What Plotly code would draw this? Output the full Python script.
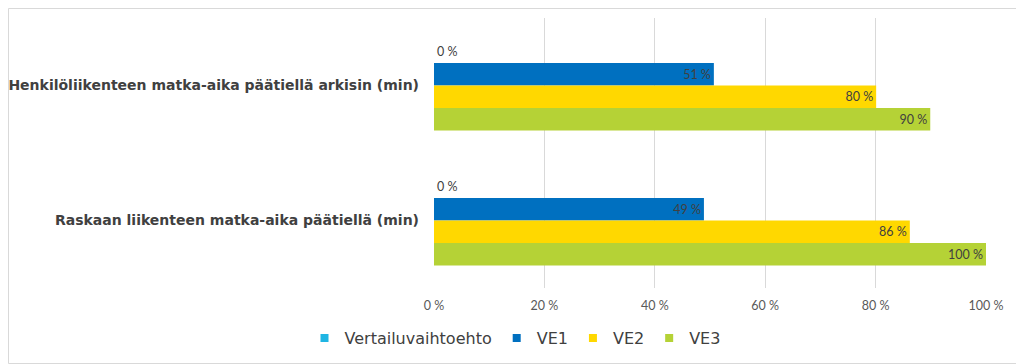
import plotly.graph_objects as go

categories = ["Henkilöliikenteen matka-aika päätiellä arkisin (min)",
              "Raskaan liikenteen matka-aika päätiellä (min)"]
series_names = ["Vertailuvaihtoehto", "VE1", "VE2", "VE3"]
vertailu = [0.0, 0.0]
ve1 = [0.507, 0.489]
ve2 = [0.801, 0.862]
ve3 = [0.899, 1.0]
tick_vals = [0, 0.2, 0.4, 0.6, 0.8, 1.0]
tick_text = ["0 %", "20 %", "40 %", "60 %", "80 %", "100 %"]

colors = ["#1FB5E3", "#0070C0", "#FFD800", "#B5D236"]
series = [vertailu, ve1, ve2, ve3]

fig = go.Figure()
for name, vals, col in zip(series_names, series, colors):
    labels = [f"{round(v * 100)} %" for v in vals]
    fig.add_trace(go.Bar(
        name=name, y=categories, x=vals, orientation="h",
        marker=dict(color=col, line=dict(width=0)),
        text=labels,
        textposition="outside" if name == "Vertailuvaihtoehto" else "inside",
        insidetextanchor="end",
        textangle=0,
        constraintext="none",
        cliponaxis=False,
        showlegend=False,
        textfont=dict(family="Lato, Open Sans, sans-serif", size=12.5, color="#404040"),
    ))
# legend entries with small square markers
for name, col in zip(series_names, colors):
    fig.add_trace(go.Scatter(
        x=[None], y=[None], mode="markers", name=name,
        marker=dict(symbol="square", size=8, color=col),
        showlegend=True,
    ))

# page body has an 8px default offset
W, H = 1016, 356
ml, mr, mt, mb = 426, 38, 10, 76
pw = W - ml - mr
ph = H - mt - mb

fig.update_layout(
    width=W, height=H,
    margin=dict(l=ml, r=mr, t=mt, b=mb),
    barmode="group", bargap=0.333, bargroupgap=0,
    plot_bgcolor="white", paper_bgcolor="white",
    font=dict(family="DejaVu Sans, sans-serif", color="#404040"),
    xaxis=dict(range=[0, 1.0], tickvals=tick_vals, ticktext=tick_text,
               showgrid=True, gridcolor="#D9D9D9", gridwidth=1,
               zeroline=False, showline=False, fixedrange=True, automargin=False,
               tickfont=dict(family="Lato, Open Sans, sans-serif", size=12.5, color="#595959"),
               ticklabelstandoff=8),
    yaxis=dict(autorange="reversed", showgrid=False, zeroline=False, showline=False,
               fixedrange=True, automargin=False,
               tickfont=dict(family="DejaVu Sans, sans-serif", size=14, color="#404040",
                             weight="bold"),
               ticklabelstandoff=14),
    legend=dict(orientation="h", x=(515 - 8) / W, xanchor="center",
                xref="container", y=1 - (338 - 8) / H, yref="container", yanchor="middle",
                font=dict(family="DejaVu Sans, sans-serif", size=16, color="#404040"),
                itemwidth=30, traceorder="normal", tracegroupgap=0),
    showlegend=True,
)

# outer border of the chart area
fig.add_shape(type="rect", xref="paper", yref="paper",
              x0=(-ml + 0.5) / pw, x1=(pw + mr - 0.5) / pw,
              y0=(-mb + 0.5) / ph, y1=(ph + mt - 0.5) / ph,
              line=dict(color="#D9D9D9", width=1), layer="below")

fig.write_html("out.html")
